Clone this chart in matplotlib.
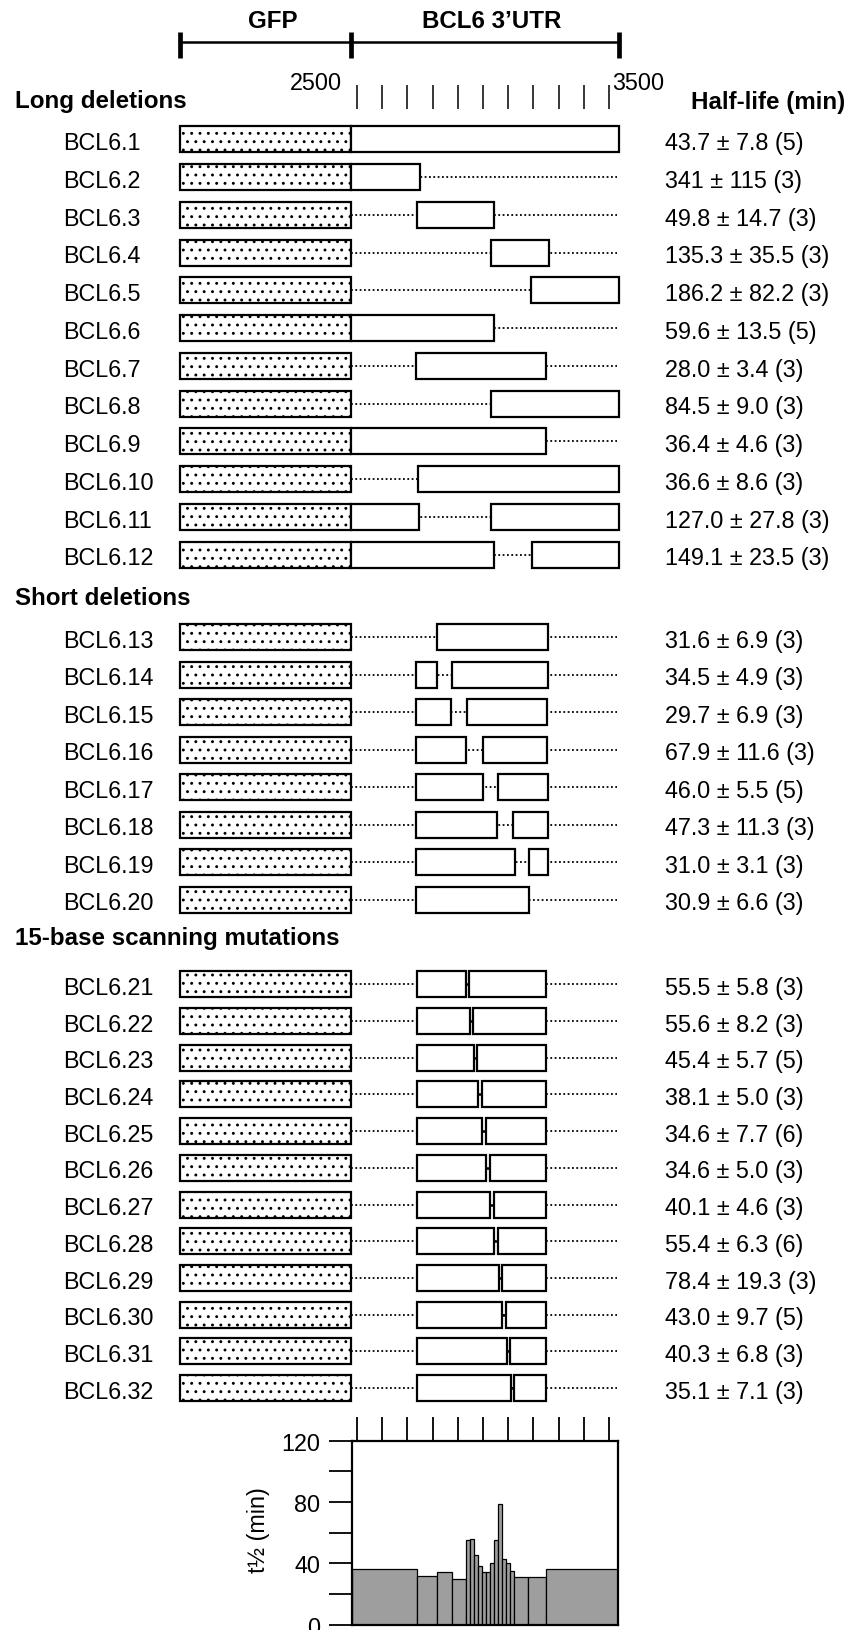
import matplotlib
matplotlib.use("Agg")
import matplotlib.pyplot as plt
import matplotlib.transforms as mtransforms
from matplotlib.patches import Rectangle

plt.rcParams['font.family'] = ['Liberation Sans', 'DejaVu Sans']
plt.rcParams['hatch.linewidth'] = 0.9

# --- data (nucleotide positions) ---
GFP_START, UTR_START, UTR_END = 1798, 2477, 3538

long_names = ['BCL6.1', 'BCL6.2', 'BCL6.3', 'BCL6.4', 'BCL6.5', 'BCL6.6',
              'BCL6.7', 'BCL6.8', 'BCL6.9', 'BCL6.10', 'BCL6.11', 'BCL6.12']
long_segments = [
    [(2477, 3538)],
    [(2477, 2749)],
    [(2739, 3045)],
    [(3032, 3262)],
    [(3190, 3538)],
    [(2477, 3045)],
    [(2733, 3250)],
    [(3032, 3538)],
    [(2477, 3250)],
    [(2742, 3538)],
    [(2477, 2745), (3031, 3538)],
    [(2477, 3045), (3196, 3538)],
]
long_halflife = ['43.7 ± 7.8 (5)', '341 ± 115 (3)', '49.8 ± 14.7 (3)', '135.3 ± 35.5 (3)',
                 '186.2 ± 82.2 (3)', '59.6 ± 13.5 (5)', '28.0 ± 3.4 (3)', '84.5 ± 9.0 (3)',
                 '36.4 ± 4.6 (3)', '36.6 ± 8.6 (3)', '127.0 ± 27.8 (3)', '149.1 ± 23.5 (3)']

short_names = ['BCL6.13', 'BCL6.14', 'BCL6.15', 'BCL6.16',
               'BCL6.17', 'BCL6.18', 'BCL6.19', 'BCL6.20']
short_segments = [
    [(2816, 3256)],
    [(2735, 2817), (2876, 3256)],
    [(2735, 2873), (2938, 3253)],
    [(2735, 2934), (3001, 3253)],
    [(2735, 3000), (3061, 3256)],
    [(2735, 3057), (3120, 3256)],
    [(2735, 3127), (3181, 3256)],
    [(2735, 3181)],
]
short_halflife = ['31.6 ± 6.9 (3)', '34.5 ± 4.9 (3)', '29.7 ± 6.9 (3)', '67.9 ± 11.6 (3)',
                  '46.0 ± 5.5 (5)', '47.3 ± 11.3 (3)', '31.0 ± 3.1 (3)', '30.9 ± 6.6 (3)']

scan_names = ['BCL6.21', 'BCL6.22', 'BCL6.23', 'BCL6.24', 'BCL6.25', 'BCL6.26',
              'BCL6.27', 'BCL6.28', 'BCL6.29', 'BCL6.30', 'BCL6.31', 'BCL6.32']
scan_region = (2737, 3250)
scan_mutations = [(2934, 2946), (2950, 2962), (2964, 2977), (2981, 2995),
                  (2997, 3011), (3012, 3027), (3028, 3043), (3044, 3058),
                  (3062, 3074), (3077, 3090), (3095, 3107), (3110, 3123)]
scan_halflife = ['55.5 ± 5.8 (3)', '55.6 ± 8.2 (3)', '45.4 ± 5.7 (5)', '38.1 ± 5.0 (3)',
                 '34.6 ± 7.7 (6)', '34.6 ± 5.0 (3)', '40.1 ± 4.6 (3)', '55.4 ± 6.3 (6)',
                 '78.4 ± 19.3 (3)', '43.0 ± 9.7 (5)', '40.3 ± 6.8 (3)', '35.1 ± 7.1 (3)']

# region of the UTR whose loss each histogram bar reports
hist_edges = [2479, 2737, 2818, 2876, 2932, 2948, 2965, 2981, 2997, 3013, 3028,
              3044, 3060, 3075, 3091, 3107, 3124, 3177, 3249, 3537]
hist_constructs = ['BCL6.10', 'BCL6.13', 'BCL6.14', 'BCL6.15',
                   'BCL6.21', 'BCL6.22', 'BCL6.23', 'BCL6.24', 'BCL6.25', 'BCL6.26',
                   'BCL6.27', 'BCL6.28', 'BCL6.29', 'BCL6.30', 'BCL6.31', 'BCL6.32',
                   'BCL6.19', 'BCL6.20', 'BCL6.9']

# --- layout (figure pixels, 862 x 1631) ---
W, H = 862, 1631
FS = 16.8
FSB = 17.4
BOX_H = 26
px_per_nt = 0.252
x_left = 2500 - 357 / px_per_nt
x_right = x_left + W / px_per_nt

fig = plt.figure(figsize=(W / 100, H / 100), dpi=100)
ax = fig.add_axes([0, 0, 1, 1])
ax.set_xlim(x_left, x_right)
ax.set_ylim(H, 0)
ax.axis('off')
tr = mtransforms.blended_transform_factory(ax.transAxes, ax.transData)

# header bracket
ax.plot([GFP_START, UTR_END], [43.3, 43.3], color='black', lw=1.8)
ax.vlines([GFP_START, UTR_START, UTR_END], 32.7, 59.3, color='black', lw=3.4)
ax.text((GFP_START + UTR_START) / 2 + 30, 28.3, 'GFP', ha='center', va='baseline',
        fontsize=FSB, fontweight='bold')
ax.text((UTR_START + UTR_END) / 2 + 27, 28.3, 'BCL6 3\u2019UTR', ha='center', va='baseline',
        fontsize=FSB, fontweight='bold')

# nucleotide scale
ax.vlines(range(2500, 3501, 100), 86, 110, color='black', lw=1.1)
ax.text(2500 - 61, 90, '2500', ha='right', va='baseline', fontsize=FS)
ax.text(3500 + 11, 90, '3500', ha='left', va='baseline', fontsize=FS)

ax.text(691 / W, 108.5, 'Half-life (min)', transform=tr, ha='left', va='baseline',
        fontsize=FSB, fontweight='bold')


def draw_row(y, name, segs, hl, mutation=None):
    ax.plot([UTR_START, UTR_END - 6], [y, y], color='black', lw=1.3,
            ls=(0, (1, 1.4)), zorder=1)
    ax.add_patch(Rectangle((GFP_START, y - BOX_H / 2), UTR_START - GFP_START, BOX_H,
                           facecolor='white', edgecolor='black', hatch='..', lw=1.6, zorder=2))
    for x0, x1 in segs:
        ax.add_patch(Rectangle((x0, y - BOX_H / 2), x1 - x0, BOX_H,
                               facecolor='white', edgecolor='black', lw=1.6, zorder=2))
    if mutation is not None:
        ax.plot(mutation, [y, y], color='black', lw=1.8, zorder=3, solid_capstyle='butt')
    ax.text(63 / W, y + 9.7, name, transform=tr, ha='left', va='baseline', fontsize=FS)
    ax.text(665 / W, y + 9.7, hl, transform=tr, ha='left', va='baseline', fontsize=FS)


ax.text(15 / W, 108.3, 'Long deletions', transform=tr, ha='left', va='baseline',
        fontsize=FSB, fontweight='bold')
for i, (n, s, h) in enumerate(zip(long_names, long_segments, long_halflife)):
    draw_row(140.3 + i * 37.77, n, s, h)

ax.text(15 / W, 605, 'Short deletions', transform=tr, ha='left', va='baseline',
        fontsize=FSB, fontweight='bold')
for i, (n, s, h) in enumerate(zip(short_names, short_segments, short_halflife)):
    draw_row(638 + i * 37.5, n, s, h)

ax.text(15 / W, 945, '15-base scanning mutations', transform=tr, ha='left', va='baseline',
        fontsize=FSB, fontweight='bold')
for i, (n, m, h) in enumerate(zip(scan_names, scan_mutations, scan_halflife)):
    segs = [(scan_region[0], m[0]), (m[1], scan_region[1])]
    draw_row(985.3 + i * 36.7, n, segs, h, mutation=m)

# --- half-life profile along the UTR ---
halflife = dict(zip(long_names + short_names + scan_names,
                    [float(s.split()[0]) for s in long_halflife + short_halflife + scan_halflife]))
heights = [halflife[c] for c in hist_constructs]
widths = [b - a for a, b in zip(hist_edges[:-1], hist_edges[1:])]

hax = fig.add_axes([351.7 / W, (H - 1625.7) / H, 266.6 / W, 184 / H])
hax.bar(hist_edges[:-1], heights, width=widths, align='edge', color='#9e9e9e',
        edgecolor='black', lw=0.9)
hax.set_xlim(hist_edges[0], hist_edges[-1])
hax.set_ylim(0, 120)
hax.set_xticks(range(2500, 3501, 100))
hax.xaxis.tick_top()
hax.tick_params(axis='x', direction='out', length=17.3, width=1.3, labeltop=False)
hax.set_yticks([0, 40, 80, 120])
hax.set_yticks([20, 60, 100], minor=True)
hax.tick_params(axis='y', which='both', direction='out', length=16.6, width=1.3,
                pad=6, labelsize=FS)
for sp in hax.spines.values():
    sp.set_linewidth(1.6)
hax.set_ylabel('t\u00bd (min)', fontsize=FS)
hax.yaxis.set_label_coords(-0.306, 0.52)

fig.savefig('out.png', dpi=100)
